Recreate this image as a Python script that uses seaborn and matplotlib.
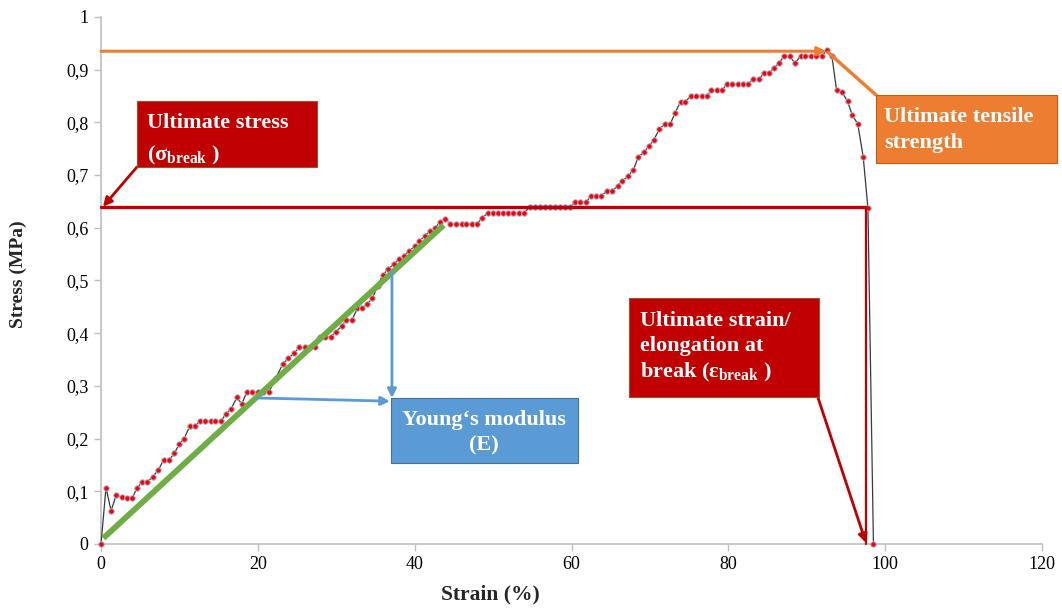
import matplotlib
matplotlib.use("Agg")
import matplotlib.pyplot as plt
import seaborn as sns
from matplotlib.patches import Rectangle
from matplotlib.ticker import FuncFormatter

# Tensile test: strain (%) and stress (MPa) readings
strain = [0, 0.64, 1.28, 1.95, 2.64, 3.3, 4.0, 4.6, 5.26, 5.9, 6.6, 7.3, 8.0, 8.7,
          9.35, 10.0, 10.6, 11.3, 12.0, 12.6, 13.3, 14.0, 14.6, 15.3, 15.9, 16.6,
          17.3, 17.95, 18.6, 19.3, 20.0, 20.7, 21.4, 22.3, 23.2, 23.9, 24.6, 25.3,
          26.0, 26.6, 27.3, 27.9, 28.6, 29.3, 30.0, 30.7, 31.3, 32.0, 32.7, 33.3,
          33.9, 34.6, 35.3, 35.9, 36.6, 37.3, 38.0, 38.6, 39.3, 40.0, 40.6, 41.3,
          42.0, 42.6, 43.2, 43.9, 44.5, 45.3, 46.0, 46.6, 47.3, 47.9, 48.6, 49.3,
          50.0, 50.6, 51.3, 51.9, 52.6, 53.3, 53.9, 54.7, 55.3, 56.0, 56.6, 57.3,
          57.9, 58.5, 59.2, 59.8, 60.5, 61.1, 61.8, 62.5, 63.1, 63.8, 64.5, 65.2,
          65.9, 66.5, 67.2, 67.9, 68.5, 69.2, 69.9, 70.5, 71.2, 71.9, 72.6, 73.2,
          73.9, 74.5, 75.2, 75.9, 76.6, 77.3, 77.8, 78.5, 79.2, 79.8, 80.5, 81.2,
          81.9, 82.5, 83.2, 83.9, 84.5, 85.2, 85.8, 86.5, 87.1, 87.8, 88.5, 89.2,
          89.8, 90.5, 91.2, 91.9, 92.6, 93.2, 93.8, 94.5, 95.2, 95.8, 96.5, 97.2,
          97.8, 98.5]
stress = [0, 0.107, 0.063, 0.093, 0.089, 0.087, 0.087, 0.107, 0.117, 0.117, 0.128,
          0.14, 0.16, 0.16, 0.172, 0.19, 0.2, 0.223, 0.223, 0.233, 0.233, 0.233,
          0.233, 0.233, 0.246, 0.256, 0.278, 0.266, 0.288, 0.288, 0.288, 0.288,
          0.288, 0.315, 0.342, 0.352, 0.362, 0.373, 0.373, 0.373, 0.373, 0.393,
          0.393, 0.393, 0.403, 0.414, 0.425, 0.425, 0.447, 0.447, 0.455, 0.466,
          0.49, 0.51, 0.521, 0.531, 0.54, 0.547, 0.556, 0.565, 0.574, 0.585, 0.594,
          0.6, 0.61, 0.617, 0.607, 0.607, 0.607, 0.607, 0.607, 0.607, 0.618, 0.628,
          0.628, 0.628, 0.628, 0.628, 0.628, 0.628, 0.628, 0.639, 0.639, 0.639,
          0.639, 0.639, 0.639, 0.639, 0.639, 0.639, 0.648, 0.648, 0.648, 0.66,
          0.66, 0.66, 0.67, 0.67, 0.68, 0.689, 0.698, 0.71, 0.734, 0.743, 0.755,
          0.767, 0.787, 0.797, 0.797, 0.818, 0.839, 0.839, 0.85, 0.85, 0.85, 0.85,
          0.861, 0.861, 0.861, 0.872, 0.872, 0.872, 0.872, 0.872, 0.882, 0.882,
          0.893, 0.893, 0.903, 0.913, 0.926, 0.926, 0.912, 0.926, 0.926, 0.926,
          0.926, 0.926, 0.937, 0.926, 0.861, 0.857, 0.84, 0.814, 0.797, 0.734,
          0.637, 0]

# Key quantities marked on the curve
uts = 0.935            # ultimate tensile strength (MPa)
uts_strain = 92.5      # strain at ultimate tensile strength (%)
break_stress = 0.639   # stress at break (MPa)
break_strain = 97.55   # elongation at break (%)
modulus_line = ([0.3, 43.7], [0.011, 0.605])   # fitted linear (elastic) region

x_ticks = [0, 20, 40, 60, 80, 100, 120]
y_ticks = [0, 0.1, 0.2, 0.3, 0.4, 0.5, 0.6, 0.7, 0.8, 0.9, 1.0]

RED = "#C00000"
ORANGE = "#ED7D31"
BLUE = "#5B9BD5"
GREEN = "#70AD47"
BOX_FS = 16

sns.set_style("white")
plt.rcParams["font.family"] = ["Liberation Serif", "DejaVu Serif"]
plt.rcParams["mathtext.fontset"] = "custom"
plt.rcParams["mathtext.rm"] = "Liberation Serif:bold"
plt.rcParams["mathtext.it"] = "Liberation Serif:bold"
plt.rcParams["mathtext.bf"] = "Liberation Serif:bold"

fig = plt.figure(figsize=(10.62, 6.08), dpi=100)
ax = fig.add_axes([0.0951, 0.1053, 0.8861, 0.8668])

# Linear fit used for Young's modulus
ax.plot(modulus_line[0], modulus_line[1], color=GREEN, lw=4.2,
        solid_capstyle="butt", zorder=4)

# Measured curve
sns.lineplot(x=strain, y=stress, sort=False, ax=ax, color="#3A3A3A", lw=0.9,
             marker="o", markersize=4.0, markerfacecolor="#FF0000",
             markeredgecolor="#9DC3E6", markeredgewidth=0.7, clip_on=False,
             zorder=3)

ax.set_xlim(0, 120)
ax.set_ylim(0, 1)
ax.set_xticks(x_ticks)
ax.set_yticks(y_ticks)


def comma_fmt(v, _):
    if abs(v) < 1e-9:
        return "0"
    if abs(v - 1) < 1e-9:
        return "1"
    return f"{v:.1f}".replace(".", ",")


ax.yaxis.set_major_formatter(FuncFormatter(comma_fmt))
ax.tick_params(axis="both", direction="out", length=5, width=1,
               color="#BFBFBF", labelsize=13, labelcolor="black", pad=4,
               bottom=True, left=True)
for side in ("top", "right"):
    ax.spines[side].set_visible(False)
for side in ("left", "bottom"):
    ax.spines[side].set_color("#BFBFBF")
    ax.spines[side].set_linewidth(1.2)

ax.set_xlabel("Strain (%)", fontsize=15.5, fontweight="bold")
ax.set_ylabel("Stress (MPa)", fontsize=14, fontweight="bold")
ax.xaxis.set_label_coords(0.4134, -0.076)
ax.yaxis.set_label_coords(-0.079, 0.512)

arrow_kw = dict(arrowstyle="-|>", mutation_scale=13, shrinkA=0, shrinkB=0)

# Ultimate tensile strength
ax.annotate("", xy=(uts_strain, uts), xytext=(0, uts),
            arrowprops=dict(color=ORANGE, lw=2.2, **arrow_kw),
            annotation_clip=False, zorder=5)
ax.plot([uts_strain + 0.2, 98.83], [uts - 0.002, 0.852], color=ORANGE, lw=2.5,
        clip_on=False, zorder=5)
ax.add_patch(Rectangle((98.83, 0.7229), 23.07, 0.1291, facecolor=ORANGE,
                       edgecolor="#C55A11", lw=0.8, clip_on=False, zorder=6))
ax.text(99.9, 0.810, "Ultimate tensile", color="white", fontsize=BOX_FS,
        fontweight="bold", va="center", ha="left", zorder=7)
ax.text(99.9, 0.760, "strength", color="white", fontsize=BOX_FS,
        fontweight="bold", va="center", ha="left", zorder=7)

# Ultimate stress (stress at break)
ax.plot([0, break_strain], [break_stress, break_stress], color=RED, lw=2.4,
        clip_on=False, zorder=5)
ax.plot([break_strain, break_strain], [break_stress, 0], color=RED, lw=1.6,
        clip_on=False, zorder=5)
ax.add_patch(Rectangle((4.59, 0.7154), 22.95, 0.1252, facecolor=RED,
                       edgecolor="#A0522D", lw=0.8, clip_on=False, zorder=6))
ax.text(5.85, 0.798, "Ultimate stress", color="white", fontsize=BOX_FS,
        fontweight="bold", va="center", ha="left", zorder=7)
ax.text(5.85, 0.738, "(σ$_{\\mathrm{break}}$ )", color="white",
        fontsize=BOX_FS, fontweight="bold", va="center", ha="left", zorder=7)
ax.annotate("", xy=(0.25, break_stress + 0.001), xytext=(4.59, 0.7154),
            arrowprops=dict(color=RED, lw=2.0, **arrow_kw),
            annotation_clip=False, zorder=5)

# Elongation at break
ax.add_patch(Rectangle((67.33, 0.279), 24.23, 0.1878, facecolor=RED,
                       edgecolor="#A0522D", lw=0.8, clip_on=False, zorder=6))
ax.text(68.7, 0.424, "Ultimate strain/", color="white", fontsize=BOX_FS,
        fontweight="bold", va="center", ha="left", zorder=7)
ax.text(68.7, 0.375, "elongation at", color="white", fontsize=BOX_FS,
        fontweight="bold", va="center", ha="left", zorder=7)
ax.text(68.7, 0.326, "break (ε$_{\\mathrm{break}}$ )", color="white",
        fontsize=BOX_FS, fontweight="bold", va="center", ha="left", zorder=7)
ax.annotate("", xy=(break_strain, 0.002), xytext=(91.4, 0.279),
            arrowprops=dict(color=RED, lw=2.0, **arrow_kw),
            annotation_clip=False, zorder=5)

# Young's modulus
ax.annotate("", xy=(37.1, 0.277), xytext=(37.1, 0.518),
            arrowprops=dict(color=BLUE, lw=2.0, **arrow_kw), zorder=5)
ax.annotate("", xy=(36.85, 0.271), xytext=(20.0, 0.277),
            arrowprops=dict(color=BLUE, lw=2.0, **arrow_kw), zorder=5)
ax.add_patch(Rectangle((36.98, 0.1537), 23.85, 0.1233, facecolor=BLUE,
                       edgecolor="#41719C", lw=0.8, zorder=6))
ax.text(48.85, 0.236, "Young‘s modulus", color="white", fontsize=BOX_FS,
        fontweight="bold", va="center", ha="center", zorder=7)
ax.text(48.85, 0.186, "(E)", color="white", fontsize=BOX_FS,
        fontweight="bold", va="center", ha="center", zorder=7)

fig.savefig("out.png", dpi=100)
